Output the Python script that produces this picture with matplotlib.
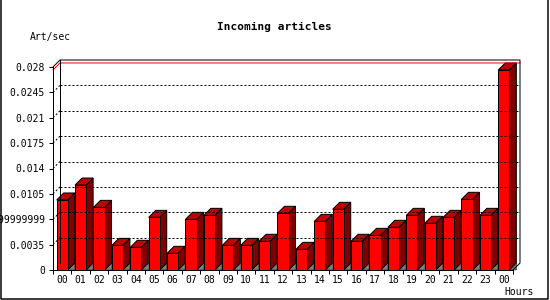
import matplotlib
matplotlib.use("Agg")
import matplotlib.pyplot as plt
from matplotlib.patches import Polygon
from matplotlib.lines import Line2D

# hourly incoming article rate (articles per second), last bar is the next 00
hours = ["00", "01", "02", "03", "04", "05", "06", "07", "08", "09", "10", "11",
         "12", "13", "14", "15", "16", "17", "18", "19", "20", "21", "22", "23", "00"]
rate = [0.00966, 0.01172, 0.00864, 0.0034, 0.00313, 0.00726, 0.0023, 0.00699,
        0.00754, 0.0034, 0.0034, 0.00396, 0.00782, 0.00285, 0.00671, 0.00837,
        0.00396, 0.00478, 0.00589, 0.00754, 0.00644, 0.00726, 0.00975, 0.00754,
        0.02759]
y_ticks = [0, 0.0035, 0.007, 0.0105, 0.014, 0.0175, 0.021, 0.0245, 0.028]
y_labels = ["0", "0.0035", "0.00699999999999", "0.0105", "0.014", "0.0175",
            "0.021", "0.0245", "0.028"]

W, H = 550, 300
PX = 0.72  # one pixel in points
mono = "DejaVu Sans Mono"

fig = plt.figure(figsize=(W / 100, H / 100), dpi=100)
fig.patch.set_facecolor("white")

# front plot rectangle: x 53..513, y 67..270 (pixels)
ax = fig.add_axes([53 / W, 30 / H, 460 / W, 203 / H])
n = len(rate)
ymax = y_ticks[-1]
ax.set_xlim(0, n)
ax.set_ylim(0, ymax)
ax.patch.set_visible(False)
for side in ["top", "right"]:
    ax.spines[side].set_visible(False)
for side in ["left", "bottom"]:
    ax.spines[side].set_linewidth(PX)

# 3d depth of 7 px expressed in data units
dx = 7 * n / 460
dy = 7 * ymax / 203

# ticks
ax.set_yticks(y_ticks, y_labels)
ax.set_xticks(range(n + 1), [""] * (n + 1))
ax.set_xticks([i + 0.5 for i in range(n)], hours, minor=True)
ax.tick_params(axis="y", direction="out", length=4 * PX, width=PX, pad=4 * PX,
               labelsize=7)
ax.tick_params(axis="x", which="major", direction="out", length=4 * PX, width=PX)
ax.tick_params(axis="x", which="minor", length=0, pad=5 * PX, labelsize=7)
for lab in ax.get_yticklabels() + ax.get_xticklabels(minor=True):
    lab.set_family(mono)

def line(xs, ys, **kw):
    kw.setdefault("color", "black")
    kw.setdefault("lw", PX)
    ax.add_line(Line2D(xs, ys, clip_on=False, **kw))

# back wall grid
for v in y_ticks[1:-1]:
    line([dx, n + dx], [v + dy, v + dy], ls=(0, (2, 2)))
    line([0, dx], [v, v + dy], ls=(0, (2, 2)))

# max value marker line
top = max(rate)
line([0, dx, n + dx], [top, top + dy, top + dy], color="red")

# back wall outline
line([0, dx, n + dx, n + dx, n], [ymax, ymax + dy, ymax + dy, dy, 0])
line([dx, dx], [dy, ymax + dy])

# 3d bars
bw = 0.6
for i, v in enumerate(rate):
    xl = i + 0.5 - bw / 2
    xr = xl + bw
    ax.add_patch(Polygon([(xr, 0), (xr + dx, dy), (xr + dx, 0)], closed=True,
                         fc="#808080", ec="black", lw=PX * 0.5, clip_on=False))
    ax.add_patch(Polygon([(xr, 0), (xr, v), (xr + dx, v + dy), (xr + dx, dy)],
                         closed=True, fc="#800000", ec="black", lw=PX, clip_on=False))
    ax.add_patch(Polygon([(xl, v), (xl + dx, v + dy), (xr + dx, v + dy), (xr, v)],
                         closed=True, fc="#c00000", ec="black", lw=PX, clip_on=False))
    ax.add_patch(Polygon([(xl, 0), (xl, v), (xr, v), (xr, 0)],
                         closed=True, fc="#ff0000", ec="black", lw=PX, clip_on=False))

# texts
fig.text(274 / W, 1 - 27 / H, "Incoming articles", ha="center", va="center",
         family=mono, weight="bold", size=8)
fig.text(30 / W, 1 - 37 / H, "Art/sec", ha="left", va="center", family=mono, size=7)
fig.text(534 / W, 1 - 292 / H, "Hours", ha="right", va="center", family=mono, size=7)

# image frame (left, bottom, right)
fx = [0.5 / W, 0.5 / W, 548 / W, 548 / W]
fy = [1, 1.5 / H, 1.5 / H, 1]
fig.add_artist(Line2D(fx, fy, color="black", lw=PX * 1.5))

fig.savefig("out.png", dpi=100)
